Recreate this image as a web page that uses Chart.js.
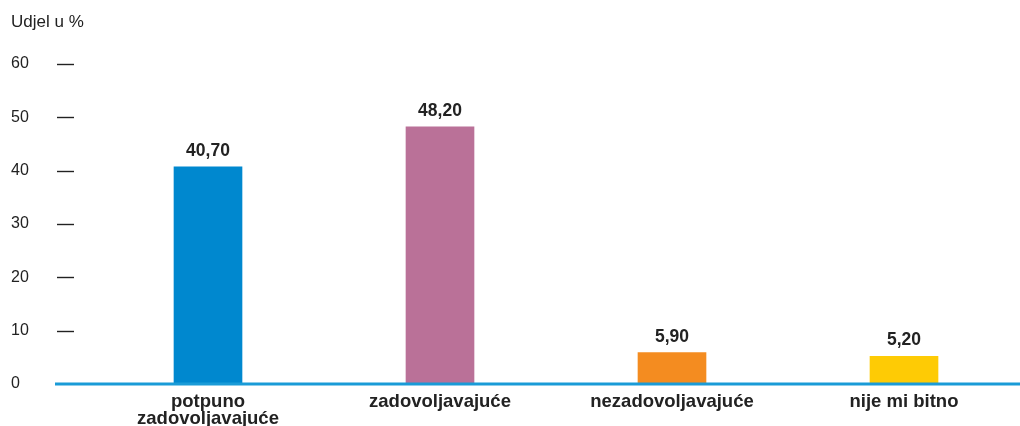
<!DOCTYPE html>
<html>
<head>
<meta charset="utf-8">
<script src="https://cdn.jsdelivr.net/npm/chart.js@4"></script>
<style>
  html, body { margin: 0; padding: 0; background: #fff; }
  #wrap { width: 1020px; height: 426px; }
</style>
</head>
<body>
<div id="wrap"><canvas id="c"></canvas></div>
<script>
const categories = [["potpuno", "zadovoljavajuće"], "zadovoljavajuće", "nezadovoljavajuće", "nije mi bitno"];
const values = [40.7, 48.2, 5.9, 5.2];
const barColors = ["#0088cf", "#ba7198", "#f48c20", "#fecb05"];
const yTicks = [0, 10, 20, 30, 40, 50, 60];

const FONT = "'Liberation Sans', Arial, sans-serif";

// brojke iznad stupaca, crtice uz y os i plava osnovna linija
const decor = {
    id: "decor",
    afterDatasetsDraw(chart) {
        const ctx = chart.ctx;
        const y = chart.scales.y;
        const area = chart.chartArea;
        ctx.save();

        // crtice kod oznaka
        ctx.strokeStyle = "#222";
        ctx.lineWidth = 1.4;
        yTicks.forEach(v => {
            if (v === 0) return;
            const py = Math.round(y.getPixelForValue(v)) + 0.5;
            ctx.beginPath();
            ctx.moveTo(57, py);
            ctx.lineTo(74, py);
            ctx.stroke();
        });

        // osnovna linija
        const y0 = y.getPixelForValue(0);
        ctx.strokeStyle = "#1a9bd7";
        ctx.lineWidth = 3;
        ctx.beginPath();
        ctx.moveTo(55, y0);
        ctx.lineTo(area.right, y0);
        ctx.stroke();

        // vrijednosti
        ctx.fillStyle = "#222";
        ctx.font = "bold 17.5px " + FONT;
        ctx.textAlign = "center";
        ctx.textBaseline = "alphabetic";
        chart.getDatasetMeta(0).data.forEach((bar, i) => {
            const txt = values[i].toFixed(2).replace(".", ",");
            ctx.fillText(txt, bar.x, bar.y - 11);
        });
        ctx.restore();
    }
};

new Chart(document.getElementById("c"), {
    type: "bar",
    data: {
        labels: categories,
        datasets: [
            {
                label: "Udjel u %",
                data: values,
                backgroundColor: barColors,
                borderWidth: 0,
                barThickness: 68,
            },
        ],
    },
    options: {
        responsive: true,
        maintainAspectRatio: false,
        animation: false,
        layout: {
            padding: { left: 11, right: 0, top: 0, bottom: 0 },
        },
        plugins: {
            legend: { display: false },
            tooltip: { enabled: false },
            title: {
                display: true,
                text: "Udjel u %",
                align: "start",
                color: "#222",
                font: { family: FONT, size: 17, weight: "normal", lineHeight: 1.2 },
                padding: { top: 12, bottom: 31.6 },
            },
        },
        scales: {
            x: {
                offset: true,
                afterFit(scale) { scale.height = 42; },
                grid: { display: false, drawTicks: false },
                border: { display: false },
                ticks: {
                    color: "#222",
                    padding: 9.5,
                    maxRotation: 0,
                    autoSkip: false,
                    font: { family: FONT, size: 18.5, weight: "bold", lineHeight: 0.9 },
                },
            },
            y: {
                min: 0,
                max: 60,
                afterFit(scale) { scale.width = 81; },
                afterBuildTicks(scale) { scale.ticks = yTicks.map(v => ({ value: v })); },
                grid: { display: false, drawTicks: false },
                border: { display: false },
                ticks: {
                    color: "#222",
                    crossAlign: "far",
                    padding: 0,
                    font: { family: FONT, size: 16 },
                },
            },
        },
    },
    plugins: [decor],
});
</script>
</body>
</html>
